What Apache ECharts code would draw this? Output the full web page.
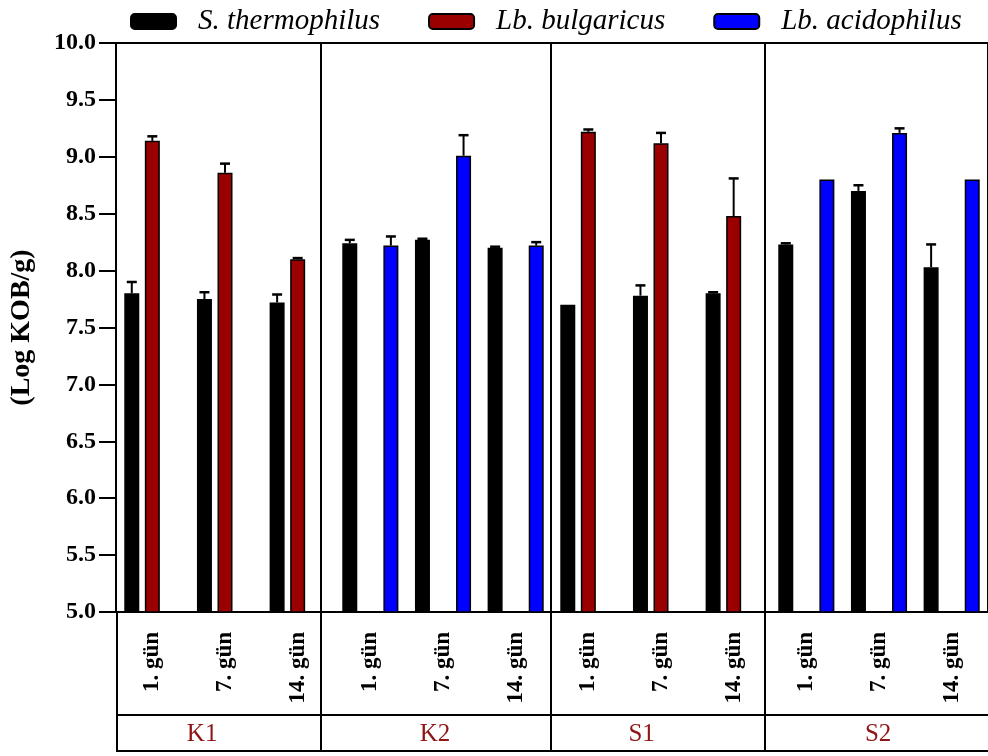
<!DOCTYPE html>
<html>
<head>
<meta charset="utf-8">
<script src="https://cdn.jsdelivr.net/npm/echarts@6/dist/echarts.min.js"></script>
<style>
  html, body { margin: 0; padding: 0; background: #fff; }
  #chart { width: 988px; height: 756px; }
</style>
</head>
<body>
<div id="chart"></div>
<script>
// Storage days, repeated for each yoghurt sample
const dayLabels = ['1. gün', '7. gün', '14. gün', '1. gün', '7. gün', '14. gün',
                   '1. gün', '7. gün', '14. gün', '1. gün', '7. gün', '14. gün'];
const groups = ['K1', 'K2', 'S1', 'S2'];
const seriesNames = ['S. thermophilus', 'Lb. bulgaricus', 'Lb. acidophilus'];

// Mean counts (log KOB/g); null where the culture was not used
const thermophilus = [7.80, 7.75, 7.72, 8.24, 8.27, 8.20, 7.70, 7.78, 7.80, 8.23, 8.70, 8.03];
const bulgaricus   = [9.14, 8.86, 8.10, null, null, null, 9.22, 9.12, 8.48, null, null, null];
const acidophilus  = [null, null, null, 8.22, 9.01, 8.22, null, null, null, 8.80, 9.21, 8.80];

// Standard deviations (upper error bars)
const thermophilusSd = [0.10, 0.06, 0.07, 0.03, 0.01, 0.01, 0.00, 0.09, 0.01, 0.01, 0.05, 0.20];
const bulgaricusSd   = [0.04, 0.08, 0.01, null, null, null, 0.02, 0.09, 0.33, null, null, null];
const acidophilusSd  = [null, null, null, 0.08, 0.18, 0.03, null, null, null, 0.00, 0.04, 0.00];

// Y axis ticks
const yMin = 5.0, yMax = 10.0, yStep = 0.5;

const means = [thermophilus, bulgaricus, acidophilus];
const sds = [thermophilusSd, bulgaricusSd, acidophilusSd];
const colors = ['#000000', '#9b0000', '#0000ff'];

// Layout
const FONT = 'Liberation Serif';
const GRID = { left: 116, top: 43, width: 876, height: 569 };
const BAR_W = 15;
const BAR_GAP = 0.37;
const CAT_W = GRID.width / dayLabels.length;
const GRID_BOTTOM = GRID.top + GRID.height;
const ROW1 = GRID_BOTTOM + 103;
const ROW2 = GRID_BOTTOM + 139;
const DIVIDER_AT = [2.81, 5.96, 8.89];          // in category widths
const GROUP_LABEL_AT = [1.18, 4.37, 7.20, 10.44];

const chart = echarts.init(document.getElementById('chart'));

const barSeries = seriesNames.map((name, s) => ({
  name: name,
  type: 'bar',
  data: means[s],
  barWidth: BAR_W,
  barGap: (BAR_GAP * 100) + '%',
  itemStyle: { color: colors[s], borderColor: '#000', borderWidth: 1.5 },
  z: 2
}));

const errorSeries = seriesNames.map((name, s) => ({
  type: 'custom',
  name: name + ' sd',
  data: means[s].map((v, i) => v == null ? null : [i, v, sds[s][i]]).filter(d => d),
  encode: { x: 0, y: 1 },
  z: 3,
  silent: true,
  renderItem: function (params, api) {
    const i = api.value(0), v = api.value(1), e = api.value(2);
    if (!(e > 0)) return null;
    const base = api.coord([i, v]);
    const top = api.coord([i, v + e]);
    const x = base[0] + (s - 1) * BAR_W * (1 + BAR_GAP);
    return {
      type: 'group',
      children: [
        { type: 'line', shape: { x1: x, y1: base[1], x2: x, y2: top[1] },
          style: { stroke: '#000', lineWidth: 2 } },
        { type: 'line', shape: { x1: x - 5, y1: top[1], x2: x + 5, y2: top[1] },
          style: { stroke: '#000', lineWidth: 2.5 } }
      ]
    };
  }
}));

// Table lines under the plot and sample dividers
const lineStyle = { stroke: '#000', lineWidth: 2 };
const graphics = [];
const xRight = GRID.left + GRID.width;
graphics.push({ type: 'line', shape: { x1: GRID.left + 1, y1: ROW1, x2: xRight, y2: ROW1 }, style: lineStyle });
graphics.push({ type: 'line', shape: { x1: GRID.left + 1, y1: ROW2, x2: xRight, y2: ROW2 }, style: lineStyle });
graphics.push({ type: 'line', shape: { x1: GRID.left + 1, y1: GRID_BOTTOM, x2: GRID.left + 1, y2: ROW2 + 1 }, style: lineStyle });
DIVIDER_AT.forEach(u => {
  const x = Math.round(GRID.left + u * CAT_W);
  graphics.push({ type: 'line', shape: { x1: x, y1: GRID.top, x2: x, y2: ROW2 }, style: lineStyle });
});
groups.forEach((g, k) => {
  graphics.push({
    type: 'text',
    x: GRID.left + GROUP_LABEL_AT[k] * CAT_W,
    y: (ROW1 + ROW2) / 2 + 1,
    style: { text: g, font: '25px "' + FONT + '"', fill: '#8e1515',
             textAlign: 'center', textVerticalAlign: 'middle' }
  });
});

chart.setOption({
  animation: false,
  backgroundColor: '#fff',
  grid: { left: GRID.left, top: GRID.top, width: GRID.width, height: GRID.height,
          show: true, borderColor: '#000', borderWidth: 2, backgroundColor: 'transparent' },
  legend: {
    data: seriesNames,
    left: 125, top: 2,
    itemWidth: 45, itemHeight: 15, itemGap: 48,
    icon: 'roundRect',
    textStyle: { fontFamily: FONT, fontStyle: 'italic', fontSize: 29, color: '#000',
                 padding: [0, 0, 0, 17] }
  },
  xAxis: {
    type: 'category',
    data: dayLabels,
    axisLine: { lineStyle: { color: '#000', width: 2 } },
    axisTick: { show: false },
    axisLabel: { rotate: 90, margin: 20, interval: 0, color: '#000',
                 fontFamily: FONT, fontWeight: 'bold', fontSize: 23 }
  },
  yAxis: {
    type: 'value',
    min: yMin, max: yMax, interval: yStep,
    name: '(Log KOB/g)',
    nameLocation: 'middle',
    nameGap: 80,
    nameTextStyle: { fontFamily: FONT, fontWeight: 'bold', fontSize: 28, color: '#000' },
    axisLine: { show: true, lineStyle: { color: '#000', width: 2 } },
    axisTick: { show: true, length: 17, lineStyle: { color: '#000', width: 2 } },
    splitLine: { show: false },
    axisLabel: { margin: 20, color: '#000', fontFamily: FONT, fontWeight: 'bold', fontSize: 24,
                 formatter: v => v.toFixed(1) }
  },
  graphic: graphics,
  series: barSeries.concat(errorSeries)
});
</script>
</body>
</html>
